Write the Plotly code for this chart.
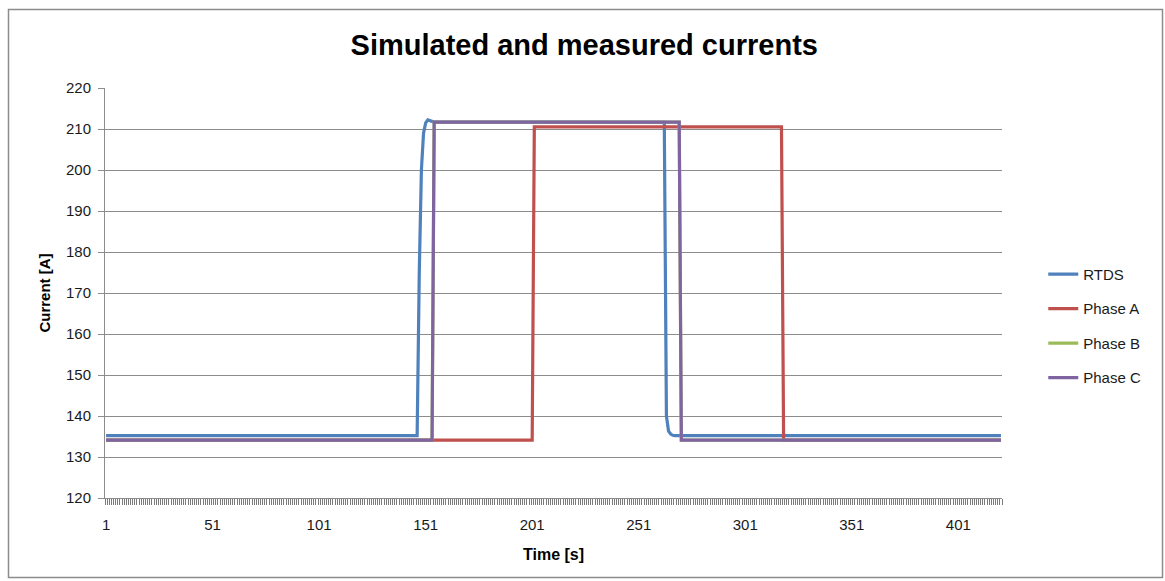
import plotly.graph_objects as go

# ---- data (time in s, current in A), breakpoints ----
n_samples = 421
x_tick_labels = [1, 51, 101, 151, 201, 251, 301, 351, 401]

rtds_t = [1, 147, 148, 149, 150, 151, 152, 153, 154, 155, 263, 264, 265, 266, 267, 268, 421]
rtds_v = [135.2, 135.2, 175.0, 200.0, 209.0, 211.5, 212.2, 212.0, 211.8, 211.7, 211.6, 140.0,
          136.3, 135.6, 135.3, 135.2, 135.2]

phase_a_t = [1, 201, 202, 318, 319, 421]
phase_a_v = [134.1, 134.1, 210.5, 210.5, 134.1, 134.1]

phase_b_t = [1, 154, 155, 270, 271, 421]
phase_b_v = [134.1, 134.1, 211.7, 211.7, 134.1, 134.1]

phase_c_t = [1, 154, 155, 270, 271, 421]
phase_c_v = [134.1, 134.1, 211.7, 211.7, 134.1, 134.1]

series = [
    ("RTDS", rtds_t, rtds_v, "#4F81BD"),
    ("Phase A", phase_a_t, phase_a_v, "#C0504D"),
    ("Phase B", phase_b_t, phase_b_v, "#9BBB59"),
    ("Phase C", phase_c_t, phase_c_v, "#8064A2"),
]

FONT = "Liberation Sans"
GRID = "#8C8C8C"

fig = go.Figure()
for name, t, v, c in series:
    fig.add_trace(go.Scatter(x=t, y=v, mode="lines", name=name, legendgroup=name,
                             line=dict(color=c, width=3.2)))

fig.update_layout(
    width=1165, height=581,
    margin=dict(l=105, r=163, t=88, b=83),
    paper_bgcolor="white", plot_bgcolor="white",
    font=dict(family=FONT, size=15, color="#1a1a1a"),
    title=dict(text="<b>Simulated and measured currents</b>", x=0.5015, xanchor="center",
               y=1 - 45 / 581, yanchor="middle",
               font=dict(family=FONT, size=29, color="black")),
    showlegend=True,
    legend=dict(x=1.046, xanchor="left", y=0.42, yanchor="middle",
                font=dict(family=FONT, size=15, color="#1a1a1a"),
                tracegroupgap=12, bgcolor="rgba(0,0,0,0)"),
    xaxis=dict(
        range=[0.5, n_samples + 0.5],
        tickmode="array", tickvals=x_tick_labels, ticktext=[str(v) for v in x_tick_labels],
        ticks="", showgrid=False, zeroline=False,
        showline=True, linecolor=GRID, linewidth=1,
        ticklabelstandoff=13,
        tickfont=dict(family=FONT, size=15, color="#1a1a1a"),
        minor=dict(tickmode="linear", tick0=0.5, dtick=1, ticks="outside", ticklen=6,
                   tickcolor="#7a7a7a", tickwidth=1, showgrid=False),
        title=dict(text="<b>Time [s]</b>", font=dict(family=FONT, size=16, color="black"),
                   standoff=16),
    ),
    yaxis=dict(
        range=[120, 220], tickmode="linear", tick0=120, dtick=10,
        ticks="outside", ticklen=6, tickcolor=GRID,
        showgrid=True, gridcolor=GRID, gridwidth=1, zeroline=False,
        showline=True, linecolor=GRID, linewidth=1,
        ticklabelstandoff=4,
        tickfont=dict(family=FONT, size=15, color="#1a1a1a"),
        title=dict(text="<b>Current [A]</b>", font=dict(family=FONT, size=15, color="black"),
                   standoff=11),
    ),
)

# outer chart border
fig.add_shape(type="rect", xref="paper", yref="paper",
              x0=(8.5 - 105) / 897, x1=(1162.5 - 105) / 897,
              y0=(498 - 577.5) / 410, y1=(498 - 9.5) / 410,
              line=dict(color="#8C8C8C", width=1.5), fillcolor="rgba(0,0,0,0)", layer="below")

fig.write_html("out.html")
